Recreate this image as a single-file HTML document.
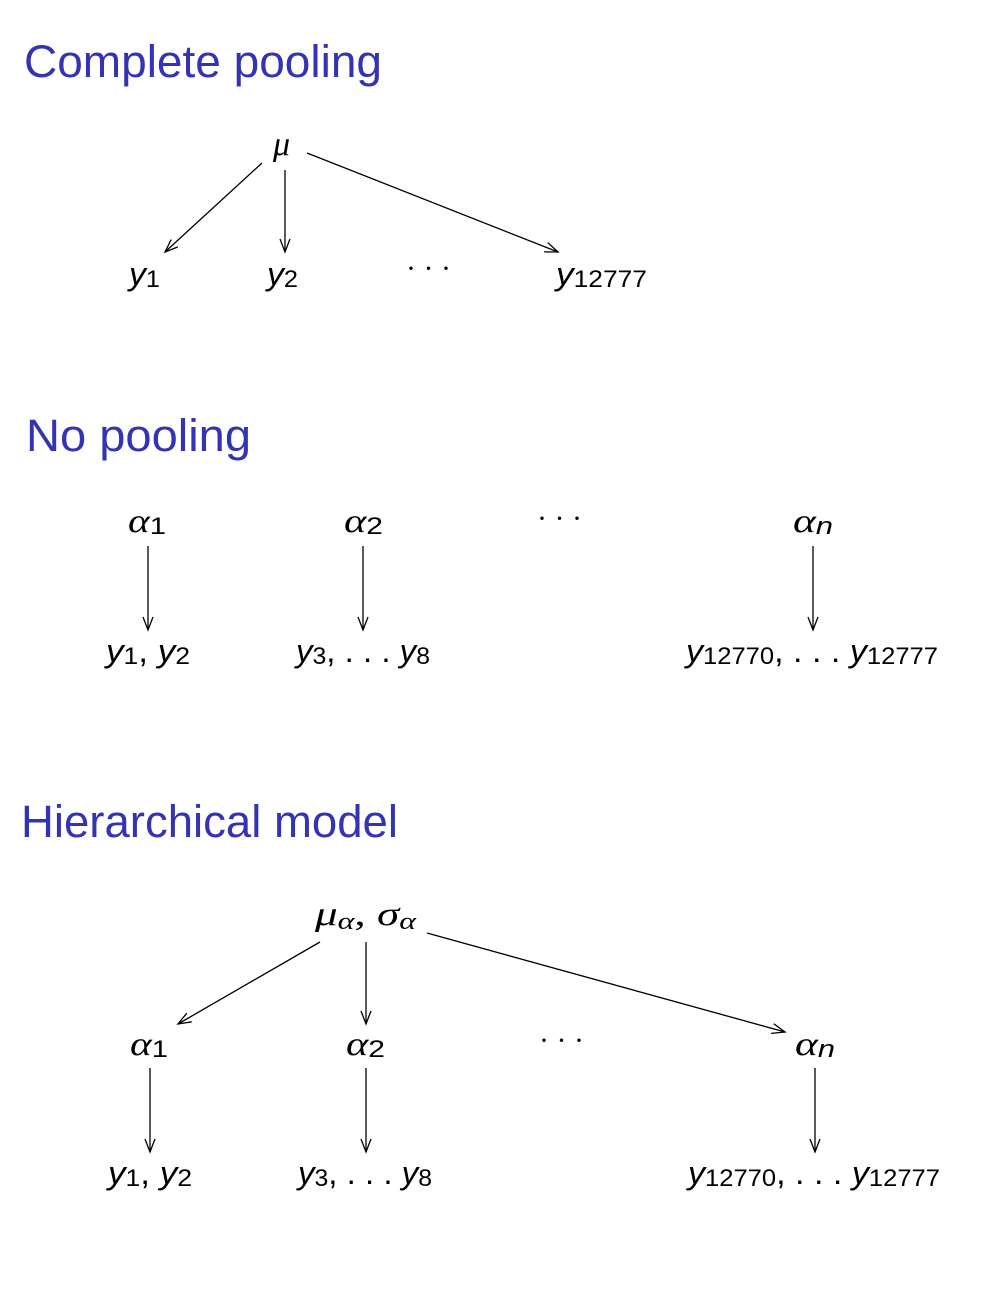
<!DOCTYPE html>
<html><head><meta charset="utf-8"><style>
html,body{margin:0;padding:0;background:#fff;}
svg{display:block;}
.t{font-family:"Liberation Sans",sans-serif;font-size:45px;fill:#3333b3;}
.m{font-family:"Liberation Sans",sans-serif;font-style:italic;font-size:32px;fill:#000;}
.g{font-family:"Liberation Serif",serif;font-style:italic;font-size:34px;fill:#000;}
.s{font-family:"Liberation Sans",sans-serif;font-style:normal;font-size:24px;}
.d{font-family:"Liberation Serif",serif;font-size:30px;fill:#000;}
line{stroke:#000;stroke-width:1.3;marker-end:url(#a);}
</style></head><body>
<svg width="998" height="1290" viewBox="0 0 998 1290" xmlns="http://www.w3.org/2000/svg">
<defs><marker id="a" markerWidth="16" markerHeight="12" refX="14" refY="6" orient="auto" markerUnits="userSpaceOnUse"><polyline points="1,1 14,6 1,11" fill="none" stroke="#000" stroke-width="1.3"/></marker></defs>

<text class="t" x="24" y="77" textLength="358" lengthAdjust="spacingAndGlyphs">Complete pooling</text>
<text class="g" x="273" y="155">μ</text>
<line x1="262" y1="163" x2="165" y2="252"/>
<line x1="285" y1="170" x2="285" y2="252"/>
<line x1="307" y1="153" x2="558" y2="252"/>
<text class="m" x="129" y="285" textLength="31" lengthAdjust="spacingAndGlyphs">y<tspan class="s" dy="2">1</tspan></text>
<text class="m" x="267" y="285" textLength="31" lengthAdjust="spacingAndGlyphs">y<tspan class="s" dy="2">2</tspan></text>
<text class="d" x="406" y="278">· · ·</text>
<text class="m" x="556" y="285" textLength="91" lengthAdjust="spacingAndGlyphs">y<tspan class="s" dy="2">12777</tspan></text>

<text class="t" x="26" y="451" textLength="225" lengthAdjust="spacingAndGlyphs">No pooling</text>
<text class="g" x="128" y="532" textLength="38" lengthAdjust="spacingAndGlyphs">α<tspan class="s" dy="2">1</tspan></text>
<text class="g" x="344" y="532" textLength="39" lengthAdjust="spacingAndGlyphs">α<tspan class="s" dy="2">2</tspan></text>
<text class="d" x="537" y="528">· · ·</text>
<text class="g" x="793" y="532" textLength="40" lengthAdjust="spacingAndGlyphs">α<tspan class="s" dy="2" style="font-style:italic">n</tspan></text>
<line x1="148" y1="546" x2="148" y2="630"/>
<line x1="363" y1="546" x2="363" y2="630"/>
<line x1="813" y1="546" x2="813" y2="630"/>
<text class="m" x="106" y="662" textLength="84" lengthAdjust="spacingAndGlyphs">y<tspan class="s" dy="2">1</tspan><tspan dy="-2" style="font-style:normal">, </tspan>y<tspan class="s" dy="2">2</tspan></text>
<text class="m" x="296" y="662" textLength="134" lengthAdjust="spacingAndGlyphs">y<tspan class="s" dy="2">3</tspan><tspan dy="-2" style="font-style:normal">, . . . </tspan>y<tspan class="s" dy="2">8</tspan></text>
<text class="m" x="686" y="662" textLength="252" lengthAdjust="spacingAndGlyphs">y<tspan class="s" dy="2">12770</tspan><tspan dy="-2" style="font-style:normal">, . . . </tspan>y<tspan class="s" dy="2">12777</tspan></text>

<text class="t" x="21" y="837" textLength="377" lengthAdjust="spacingAndGlyphs">Hierarchical model</text>
<text class="g" x="315" y="925" textLength="101" lengthAdjust="spacingAndGlyphs">μ<tspan class="s" style="font-family:'Liberation Serif';font-style:italic" dy="4">α</tspan><tspan dy="-4" style="font-style:normal">, </tspan>σ<tspan class="s" style="font-family:'Liberation Serif';font-style:italic" dy="4">α</tspan></text>
<line x1="320" y1="942" x2="178" y2="1024"/>
<line x1="366" y1="942" x2="366" y2="1024"/>
<line x1="427" y1="933" x2="785" y2="1032"/>
<text class="g" x="130" y="1055" textLength="38" lengthAdjust="spacingAndGlyphs">α<tspan class="s" dy="2">1</tspan></text>
<text class="g" x="346" y="1055" textLength="39" lengthAdjust="spacingAndGlyphs">α<tspan class="s" dy="2">2</tspan></text>
<text class="d" x="539" y="1050">· · ·</text>
<text class="g" x="795" y="1055" textLength="40" lengthAdjust="spacingAndGlyphs">α<tspan class="s" dy="2" style="font-style:italic">n</tspan></text>
<line x1="150" y1="1068" x2="150" y2="1152"/>
<line x1="366" y1="1068" x2="366" y2="1152"/>
<line x1="815" y1="1068" x2="815" y2="1152"/>
<text class="m" x="108" y="1184" textLength="84" lengthAdjust="spacingAndGlyphs">y<tspan class="s" dy="2">1</tspan><tspan dy="-2" style="font-style:normal">, </tspan>y<tspan class="s" dy="2">2</tspan></text>
<text class="m" x="298" y="1184" textLength="134" lengthAdjust="spacingAndGlyphs">y<tspan class="s" dy="2">3</tspan><tspan dy="-2" style="font-style:normal">, . . . </tspan>y<tspan class="s" dy="2">8</tspan></text>
<text class="m" x="688" y="1184" textLength="252" lengthAdjust="spacingAndGlyphs">y<tspan class="s" dy="2">12770</tspan><tspan dy="-2" style="font-style:normal">, . . . </tspan>y<tspan class="s" dy="2">12777</tspan></text>
</svg>
</body></html>
